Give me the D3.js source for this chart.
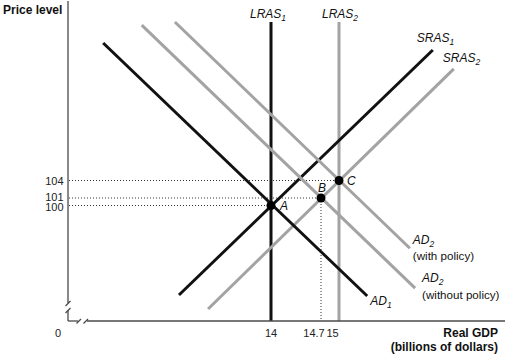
<!DOCTYPE html>
<html><head><meta charset="utf-8">
<script src="https://cdn.jsdelivr.net/npm/d3@7"></script>
<style>
html,body{margin:0;padding:0;background:#fff;}
svg{display:block;font-family:"Liberation Sans",Arial,Helvetica,sans-serif;}
</style></head>
<body>
<svg id="chart" width="505" height="356"></svg>
<script>
// ---- data ----
const xTickValues = [14, 14.7, 15];
const xTickLabels = ["14", "14.7", "15"];
const yTickValues = [100, 101, 104];
const yTickLabels = ["100", "101", "104"];

const pointNames = ["A", "B", "C"];
const pointX = [14, 14.7, 15];
const pointY = [100, 101, 104];

const curveNames = ["LRAS1", "LRAS2", "SRAS1", "SRAS2", "AD1", "AD2_without", "AD2_with"];
const curveX1 = [14, 15, 12.64, 13.07, 11.52, 12.09, 12.58];
const curveY1 = [80, 80, 84.5, 82.08, 126.55, 129.5, 130];
const curveX2 = [14, 15, 16.43, 16.75, 15.43, 16.16, 16.08];
const curveY2 = [130, 130, 125.4, 122.3, 84.33, 85.7, 92.6];

// ---- drawing ----
const svg = d3.select("#chart");
const x = d3.scaleLinear().domain([11, 14, 14.7, 15, 17.5]).range([68, 271, 321, 339, 503]);
const y = d3.scaleLinear().domain([80, 100, 101, 104, 130]).range([321, 205.5, 198, 180.5, 22]);

const black = "#111", gray = "#a3a3a3", axisCol = "#4a4a4a";
const styleOf = {LRAS1: black, LRAS2: gray, SRAS1: black, SRAS2: gray, AD1: black, AD2_without: gray, AD2_with: gray};

const x0 = x.range()[0], yBase = y(80);

// dotted guide lines
const guides = svg.append("g").attr("stroke", "#333").attr("stroke-width", 1).attr("stroke-dasharray", "1,2");
pointNames.forEach((n, i) => {
  guides.append("line").attr("x1", x0 + 1).attr("x2", x(pointX[i])).attr("y1", y(pointY[i])).attr("y2", y(pointY[i]));
});
guides.append("line").attr("x1", x(14.7)).attr("x2", x(14.7)).attr("y1", y(101)).attr("y2", yBase);

// curves
const curves = svg.append("g").attr("stroke-width", 3).attr("fill", "none");
curveNames.forEach((n, i) => {
  curves.append("line")
    .attr("x1", x(curveX1[i])).attr("y1", y(curveY1[i]))
    .attr("x2", x(curveX2[i])).attr("y2", y(curveY2[i]))
    .attr("stroke", styleOf[n]);
});

// axes
const ax = svg.append("g").attr("stroke", axisCol).attr("stroke-width", 1.3).attr("fill", "none");
// y axis with break
ax.append("line").attr("x1", x0).attr("x2", x0).attr("y1", 1).attr("y2", 303);
ax.append("line").attr("x1", x0).attr("x2", x0).attr("y1", 310).attr("y2", yBase);
ax.append("line").attr("x1", x0 - 2.5).attr("y1", 306).attr("x2", x0 + 2.5).attr("y2", 301);
ax.append("line").attr("x1", x0 - 2.5).attr("y1", 313).attr("x2", x0 + 2.5).attr("y2", 308);
// x axis with break
ax.append("line").attr("x1", x0).attr("x2", 78).attr("y1", yBase).attr("y2", yBase);
ax.append("line").attr("x1", 87).attr("x2", 505).attr("y1", yBase).attr("y2", yBase);
ax.append("line").attr("x1", 76.5).attr("y1", 323.5).attr("x2", 81).attr("y2", 319);
ax.append("line").attr("x1", 83.5).attr("y1", 323.5).attr("x2", 88).attr("y2", 319);

// tick labels
const tl = svg.append("g").attr("font-size", 11).attr("fill", "#222");
const yNudge = {100: 1.3, 101: -0.8, 104: 0};
yTickValues.forEach((v, i) => {
  tl.append("text").attr("x", 63.5).attr("y", y(v) + 4 + yNudge[v]).attr("text-anchor", "end").text(yTickLabels[i]);
});
const xNudge = [0, -7, -6.5];
xTickValues.forEach((v, i) => {
  tl.append("text").attr("x", x(v) + xNudge[i]).attr("y", 337).attr("text-anchor", "middle").text(xTickLabels[i]);
});
tl.append("text").attr("x", 58).attr("y", 337).attr("text-anchor", "middle").text("0");

// axis titles
const at = svg.append("g").attr("font-size", 12).attr("font-weight", "bold").attr("fill", "#111");
at.append("text").attr("x", 3).attr("y", 14).text("Price level");
at.append("text").attr("x", 498).attr("y", 337).attr("text-anchor", "end").text("Real GDP");
at.append("text").attr("x", 498).attr("y", 351).attr("text-anchor", "end").text("(billions of dollars)");

// points
svg.append("g").selectAll("circle").data(pointNames).join("circle")
  .attr("cx", (d, i) => x(pointX[i])).attr("cy", (d, i) => y(pointY[i])).attr("r", 4.5).attr("fill", "#000");

// point labels
const pl = svg.append("g").attr("font-size", 12).attr("font-style", "italic").attr("fill", "#111");
const pOff = {A: [9, 4], B: [-3, -6], C: [8, 4]};
pointNames.forEach((n, i) => {
  pl.append("text").attr("x", x(pointX[i]) + pOff[n][0]).attr("y", y(pointY[i]) + pOff[n][1]).text(n);
});

// curve labels
function subLabel(g, px, py, main, sub, anchor) {
  const t = g.append("text").attr("x", px).attr("y", py).attr("text-anchor", anchor || "start")
    .attr("font-size", 12).attr("font-style", "italic").attr("fill", "#111");
  t.append("tspan").text(main);
  t.append("tspan").attr("font-size", 8.5).attr("dy", 3).text(sub);
  return t;
}
const cl = svg.append("g");
const ci = n => curveNames.indexOf(n);
subLabel(cl, x(14) - 3, 18, "LRAS", "1", "middle");
subLabel(cl, x(15) + 1, 18, "LRAS", "2", "middle");
subLabel(cl, x(curveX2[ci("SRAS1")]) - 16, y(curveY2[ci("SRAS1")]) - 8, "SRAS", "1");
subLabel(cl, x(curveX2[ci("SRAS2")]) - 11, y(curveY2[ci("SRAS2")]) - 7, "SRAS", "2");
subLabel(cl, x(curveX2[ci("AD1")]) + 3, y(curveY2[ci("AD1")]) + 9, "AD", "1");
subLabel(cl, x(curveX2[ci("AD2_with")]) + 3, y(curveY2[ci("AD2_with")]) - 4, "AD", "2");
cl.append("text").attr("x", x(curveX2[ci("AD2_with")]) + 3).attr("y", y(curveY2[ci("AD2_with")]) + 12)
  .attr("font-size", 11.6).attr("fill", "#111").text("(with policy)");
subLabel(cl, x(curveX2[ci("AD2_without")]) + 7, y(curveY2[ci("AD2_without")]) - 6, "AD", "2");
cl.append("text").attr("x", x(curveX2[ci("AD2_without")]) + 7).attr("y", y(curveY2[ci("AD2_without")]) + 11)
  .attr("font-size", 11.6).attr("fill", "#111").text("(without policy)");
</script>
</body></html>
